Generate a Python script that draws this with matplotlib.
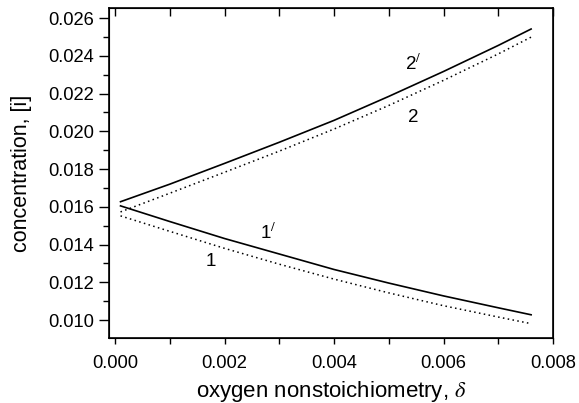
import matplotlib
matplotlib.use("Agg")
import matplotlib.pyplot as plt
from matplotlib.ticker import MultipleLocator, FormatStrFormatter

plt.rcParams['font.family'] = ['Liberation Sans', 'DejaVu Sans']
plt.rcParams['mathtext.fontset'] = 'stix'

delta = [0.0001, 0.001, 0.002, 0.003, 0.004, 0.005, 0.006, 0.007, 0.0076]
c2p = [0.01627, 0.0172, 0.0183, 0.01942, 0.02058, 0.02185, 0.02317, 0.02455, 0.02542]
c2 = [0.01573, 0.01672, 0.01783, 0.01895, 0.02012, 0.02137, 0.0227, 0.0241, 0.02499]
c1p = [0.01605, 0.01522, 0.01432, 0.0135, 0.01268, 0.01196, 0.01128, 0.01065, 0.01028]
c1 = [0.01552, 0.0147, 0.0138, 0.01296, 0.01217, 0.01144, 0.01076, 0.01016, 0.00981]

fig = plt.figure(figsize=(5.79, 4.03), dpi=100)
ax = fig.add_axes([0.1883, 0.1613, 0.9551 - 0.1883, 0.980 - 0.1613])

ax.plot(delta, c2p, color='black', lw=1.2)
ax.plot(delta, c2, color='black', lw=1.1, linestyle=(0, (1, 2.2)))
ax.plot(delta, c1p, color='black', lw=1.2)
ax.plot(delta, c1, color='black', lw=1.1, linestyle=(0, (1, 2.2)))

ax.set_xlim(-0.00011, 0.008)
ax.set_ylim(0.00905, 0.02653)

ax.xaxis.set_major_locator(MultipleLocator(0.002))
ax.xaxis.set_minor_locator(MultipleLocator(0.001))
ax.yaxis.set_major_locator(MultipleLocator(0.002))
ax.yaxis.set_minor_locator(MultipleLocator(0.001))
ax.xaxis.set_major_formatter(FormatStrFormatter('%.3f'))
ax.yaxis.set_major_formatter(FormatStrFormatter('%.3f'))

ax.tick_params(axis='both', which='both', direction='out', labelsize=13.2, width=1.0)
ax.tick_params(axis='y', which='major', length=7)
ax.tick_params(axis='y', which='minor', length=4)
ax.tick_params(axis='x', which='major', length=4.5, pad=8)
ax.tick_params(axis='x', which='minor', length=4.5)
for s in ax.spines.values():
    s.set_linewidth(1.2)

top = ax.twiny()
top.set_xlim(ax.get_xlim())
top.xaxis.set_major_locator(MultipleLocator(0.001))
top.tick_params(axis='x', direction='in', length=5.5, width=1.0, labeltop=False)

ax.set_xlabel(r'oxygen nonstoichiometry, $\delta$', fontsize=16, labelpad=5)
ax.set_ylabel('concentration, [i]', fontsize=15.5, labelpad=12)

ax.text(0.00545, 0.02355, r'2$^{/}$', fontsize=13.5, ha='center', va='center')
ax.text(0.00545, 0.02075, '2', fontsize=13.5, ha='center', va='center')
ax.text(0.00279, 0.01460, r'1$^{/}$', fontsize=13.5, ha='center', va='center')
ax.text(0.00175, 0.01312, '1', fontsize=13.5, ha='center', va='center')

fig.savefig('out.png', dpi=100)
